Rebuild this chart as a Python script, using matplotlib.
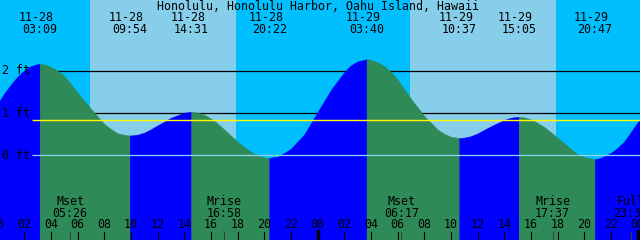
import matplotlib
matplotlib.use("Agg")
import matplotlib.pyplot as plt
import matplotlib.transforms as mtransforms
import numpy as np

title = "Honolulu, Honolulu Harbor, Oahu Island, Hawaii"

# tide height (ft), hours counted from 11-28 00:00
curve_hours = [0, 0.5, 1, 1.5, 2, 2.5, 3, 3.15, 3.5, 4, 4.5, 5, 5.5, 6, 7, 8, 8.5, 9, 9.5, 9.9,
               10, 10.5, 11, 11.5, 12, 13, 13.5, 14, 14.52, 15, 15.5, 16, 16.5, 17, 18, 19, 19.5,
               20, 20.37, 21, 21.5, 22, 23, 24, 25, 26, 26.5, 27, 27.67, 28, 28.5, 29, 29.5,
               30, 31, 32, 33, 33.5, 34, 34.62, 35, 35.5, 36, 37, 38, 38.5, 39, 39.08, 39.5,
               40, 40.5, 41, 42, 43, 43.5, 44, 44.78, 45, 45.5, 46, 46.5, 47, 48, 48.3]
curve_feet = [1.23, 1.47, 1.68, 1.87, 2.01, 2.11, 2.16, 2.16, 2.15, 2.09, 2.00, 1.87, 1.68, 1.48, 1.10, 0.74, 0.62, 0.52, 0.485, 0.47,
              0.47, 0.49, 0.54, 0.62, 0.71, 0.89, 0.95, 1.01, 1.03, 1.01, 0.96, 0.87, 0.75, 0.61, 0.32, 0.08, 0.0,
              -0.05, -0.06, -0.03, 0.06, 0.16, 0.50, 1.03, 1.55, 1.97, 2.13, 2.22, 2.27, 2.26, 2.20, 2.11, 1.97,
              1.79, 1.34, 0.93, 0.61, 0.51, 0.44, 0.41, 0.42, 0.455, 0.52, 0.69, 0.84, 0.89, 0.91, 0.91, 0.90,
              0.85, 0.765, 0.67, 0.42, 0.15, 0.03, -0.04, -0.09, -0.08, -0.02, 0.06, 0.18, 0.33, 0.78, 0.91]

# high / low tide events
tide_days = [0, 0, 0, 0, 1, 1, 1, 1]
tide_dates = ["11-28", "11-28", "11-28", "11-28", "11-29", "11-29", "11-29", "11-29"]
tide_times = ["03:09", "09:54", "14:31", "20:22", "03:40", "10:37", "15:05", "20:47"]

# daylight (sunrise, sunset)
day_days = [0, 1]
sunrise = ["06:55", "06:56"]
sunset = ["17:53", "17:53"]

# moon events
moon_days = [0, 0, 1, 1, 1]
moon_names = ["Mset", "Mrise", "Mset", "Mrise", "Full"]
moon_times = ["05:26", "16:58", "06:17", "17:37", "23:30"]

depth_lines = [1, 2]
msl_level = 0.83
hour_ticks = list(range(0, 50, 2))

NIGHT = "#00BFFF"
DAY = "#87CEEB"
FLOOD = "#0000FF"
EBB = "#2E8B57"
FONT = dict(family="DejaVu Sans Mono", fontsize=8.4, color="black")


def to_hours(day, hhmm):
    h, m = hhmm.split(":")
    return day * 24 + int(h) + int(m) / 60


fig = plt.figure(figsize=(6.4, 2.4), dpi=100, facecolor=NIGHT)
ax = fig.add_axes([0, 0, 1, 1])
ax.set_facecolor(NIGHT)
ax.set_xlim(0.17, 48.18)
ax.set_ylim(-2.0, 3.67)
for s in ax.spines.values():
    s.set_visible(False)
ax.set_xticks([])
ax.set_yticks([])

# day / night background
for d, r, s in zip(day_days, sunrise, sunset):
    ax.axvspan(to_hours(d, r), to_hours(d, s), color=DAY, lw=0, zorder=0)

ax.hlines(depth_lines, 2.57, 49, colors="black", lw=0.9, zorder=1)

# tide fill, blue while rising and green while falling
event_hours = [to_hours(d, t) for d, t in zip(tide_days, tide_times)]
bounds = [curve_hours[0]] + event_hours + [curve_hours[-1]]
for a, b in zip(bounds[:-1], bounds[1:]):
    seg_t = [a] + [t for t in curve_hours if a < t < b] + [b]
    seg_h = np.interp(seg_t, curve_hours, curve_feet)
    color = FLOOD if seg_h[-1] > seg_h[0] else EBB
    ax.fill_between(seg_t, -3, seg_h, color=color, lw=0.3, edgecolor=color, zorder=2)

ax.hlines([msl_level], 2.57, 49, colors="#FFFF00", lw=1.0, zorder=3)
ax.hlines([0], 2.57, 49, colors="#90D4F0", lw=0.9, zorder=3)

for lev in [0] + depth_lines:
    ax.text(1.5 / 640, lev, f"{lev} ft", transform=mtransforms.blended_transform_factory(ax.transAxes, ax.transData),
            ha="left", va="center", zorder=5, **FONT)

xdata_yaxes = mtransforms.blended_transform_factory(ax.transData, ax.transAxes)
shift_left = mtransforms.offset_copy(xdata_yaxes, fig=fig, x=-3.5, units="dots")

ax.text(0.497, 0.975, title, transform=ax.transAxes, ha="center", va="center", zorder=5, **FONT)

for h, date, t in zip(event_hours, tide_dates, tide_times):
    ax.text(h, 0.929, date, transform=shift_left, ha="center", va="center", zorder=5, **FONT)
    ax.text(h, 0.879, t, transform=xdata_yaxes, ha="center", va="center", zorder=5, **FONT)

for d, name, t in zip(moon_days, moon_names, moon_times):
    h = to_hours(d, t)
    ax.text(h, 0.160, name, transform=xdata_yaxes, ha="center", va="center", zorder=5, **FONT)
    ax.text(h, 0.111, t, transform=xdata_yaxes, ha="center", va="center", zorder=5, **FONT)
    ax.axvline(h, ymin=0, ymax=0.035, color="#3a3a3a", lw=0.7, zorder=4)

for h in hour_ticks:
    ax.text(h, 0.0625, f"{h % 24:02d}", transform=xdata_yaxes, ha="center", va="center", zorder=5, **FONT)
    wide = h % 24 == 0
    ax.axvline(h, ymin=0, ymax=0.038 if wide else 0.035, color="black", lw=2.4 if wide else 0.8, zorder=4)

fig.savefig("out.png", dpi=100, facecolor=fig.get_facecolor())
